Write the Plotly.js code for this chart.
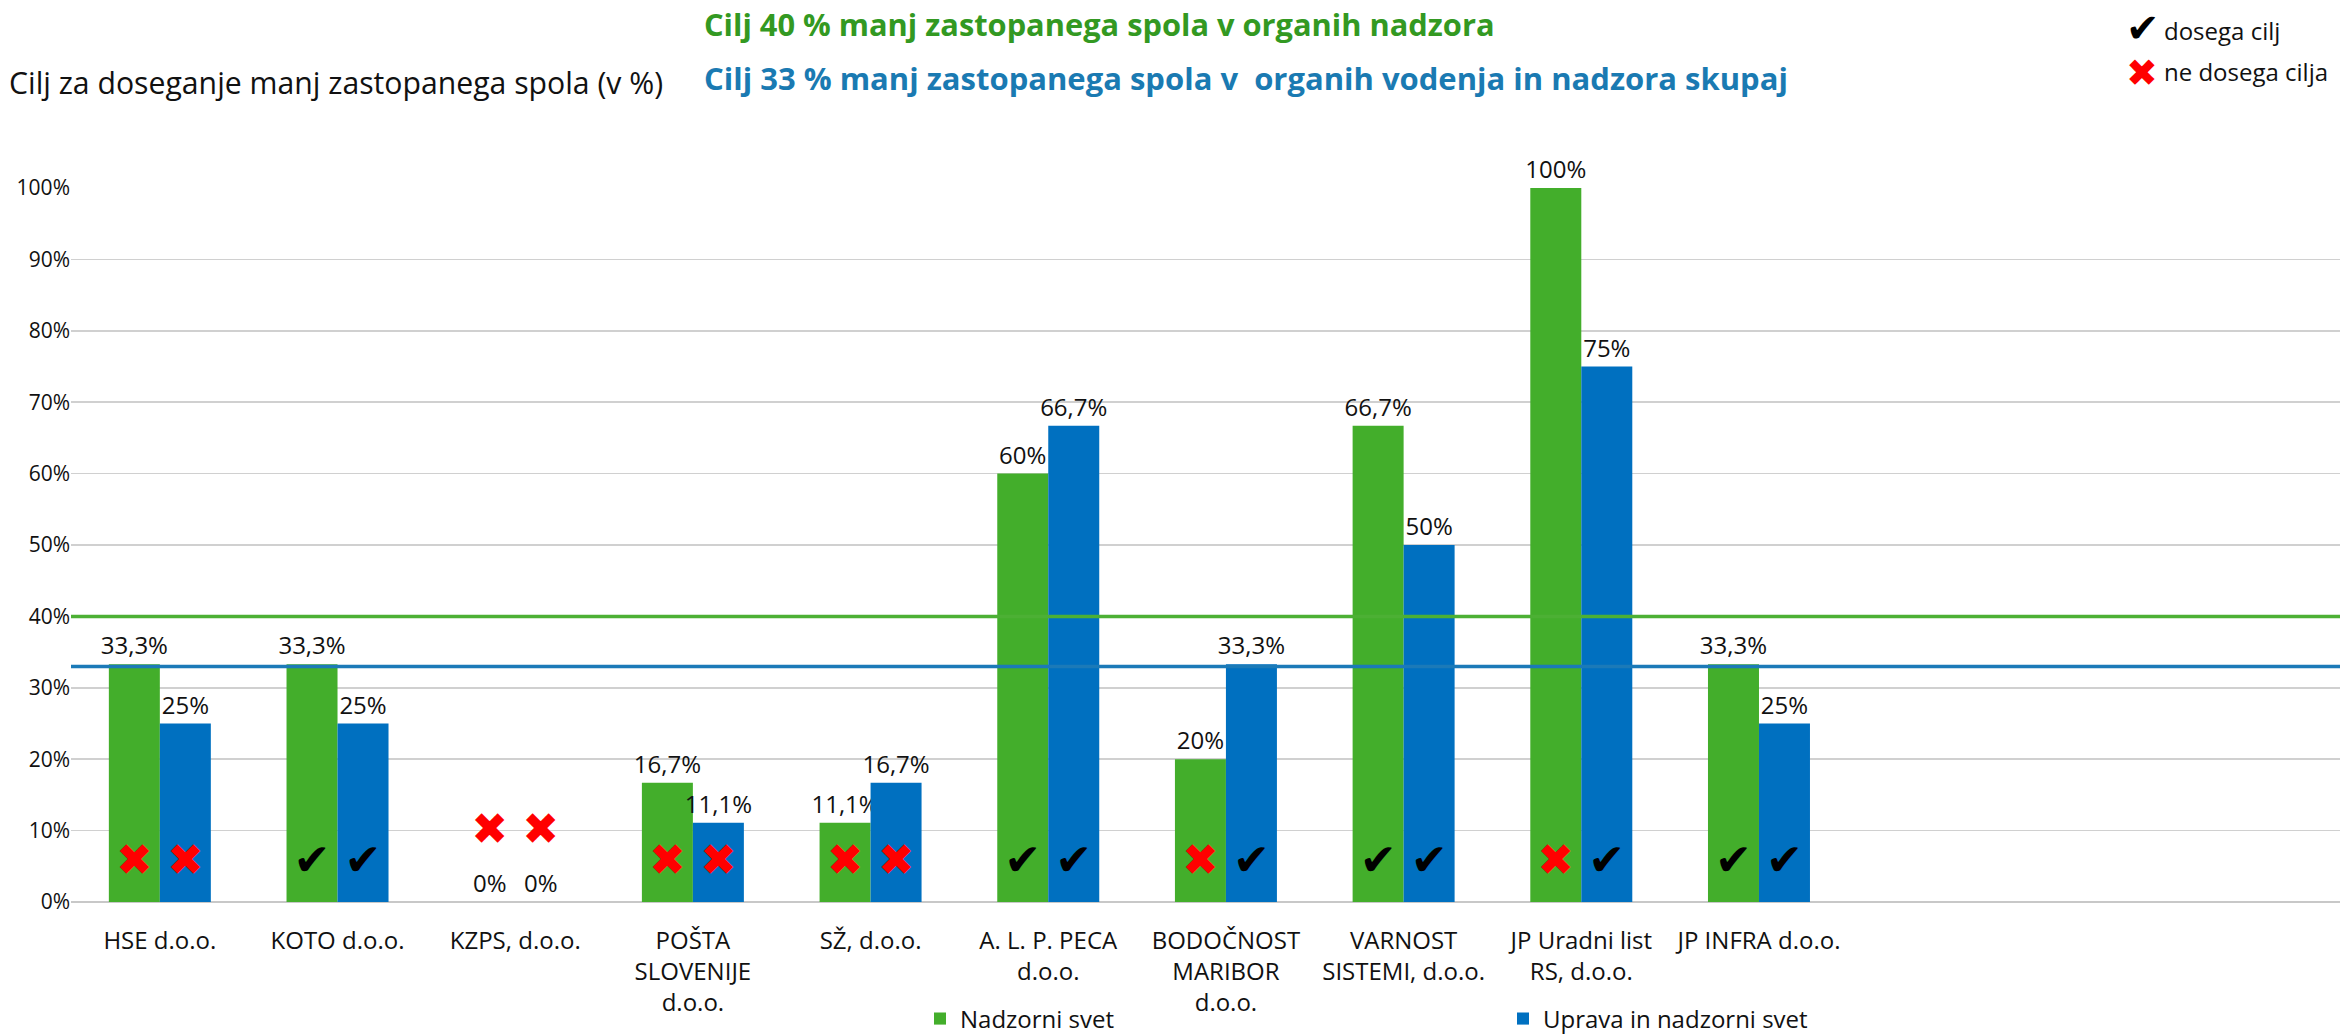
<!DOCTYPE html>
<html>
<head>
<meta charset="utf-8">
<script src="https://cdn.plot.ly/plotly-3.0.1.min.js"></script>
<style>
  html, body { margin: 0; padding: 0; background: #fff; }
  #chart { width: 2344px; height: 1034px; }
</style>
</head>
<body>
<div id="chart"></div>
<script>
const companies = [
    'HSE d.o.o.',
    'KOTO d.o.o.',
    'KZPS, d.o.o.',
    'POŠTA<br>SLOVENIJE<br>d.o.o.',
    'SŽ, d.o.o.',
    'A. L. P. PECA<br>d.o.o.',
    'BODOČNOST<br>MARIBOR<br>d.o.o.',
    'VARNOST<br>SISTEMI, d.o.o.',
    'JP Uradni list<br>RS, d.o.o.',
    'JP INFRA d.o.o.'
]
const supervisoryBoard = [33.3, 33.3, 0, 16.7, 11.1, 60, 20, 66.7, 100, 33.3]
const managementAndBoard = [25, 25, 0, 11.1, 16.7, 66.7, 33.3, 50, 75, 25]
// true = dosega cilj (check), false = ne dosega cilja (red cross)
const supervisoryMet = [false, true, false, false, false, true, false, true, false, true]
const managementMet = [false, true, false, false, false, true, true, true, true, true]
const targetSupervisory = 40
const targetTotal = 33

const W = 2344, H = 1034
const M = { l: 71, r: 4, t: 188, b: 132, autoexpand: false }
const plotW = W - M.l - M.r
const plotH = H - M.t - M.b
const px = x => (x - M.l) / plotW
const py = y => (H - M.b - y) / plotH

const GREEN = '#43ae2b'
const BLUE = '#0070c0'
const FONT = '"Open Sans", "Noto Sans", sans-serif'
const GAP = 0.426
const CHECK = '✔'
const CROSS = '✖'

const fmt = v => String(v).replace('.', ',') + '%'
// marks sit near the bottom of each bar, higher where the bar is empty
const markY = (vals) => vals.map(v => v === 0 ? 9.6 : 5.3)
const markText = (met) => met.map(m => m ? CHECK : CROSS)
const markColor = (met) => met.map(m => m ? '#000000' : '#ff0000')

const data = [
    {
        type: 'bar',
        name: 'Nadzorni svet',
        x: companies,
        y: supervisoryBoard,
        marker: { color: GREEN },
        text: supervisoryBoard.map(fmt),
        textposition: 'outside',
        textfont: { size: 24, color: '#111', family: FONT },
        constraintext: 'none',
        cliponaxis: false,
        hoverinfo: 'skip'
    },
    {
        type: 'bar',
        name: 'Uprava in nadzorni svet',
        x: companies,
        y: managementAndBoard,
        marker: { color: BLUE },
        text: managementAndBoard.map(fmt),
        textposition: 'outside',
        textfont: { size: 24, color: '#111', family: FONT },
        constraintext: 'none',
        cliponaxis: false,
        hoverinfo: 'skip'
    },
    {
        type: 'scatter',
        mode: 'text',
        x: companies,
        y: markY(supervisoryBoard),
        text: markText(supervisoryMet),
        textfont: { size: 44, color: markColor(supervisoryMet), family: 'DejaVu Sans' },
        showlegend: false,
        cliponaxis: false,
        hoverinfo: 'skip'
    },
    {
        type: 'scatter',
        mode: 'text',
        x: companies,
        y: markY(managementAndBoard),
        text: markText(managementMet),
        textfont: { size: 44, color: markColor(managementMet), family: 'DejaVu Sans' },
        showlegend: false,
        cliponaxis: false,
        hoverinfo: 'skip'
    }
]

const layout = {
    width: W,
    height: H,
    margin: M,
    paper_bgcolor: '#fff',
    plot_bgcolor: '#fff',
    font: { family: FONT, color: '#111' },
    barmode: 'group',
    bargap: GAP,
    bargroupgap: 0,
    scattermode: 'group',
    scattergap: GAP,
    showlegend: true,
    legend: {
        orientation: 'h',
        x: px(920),
        xanchor: 'left',
        y: py(1019),
        yanchor: 'middle',
        entrywidth: 538,
        entrywidthmode: 'pixels',
        font: { size: 24, family: FONT, color: '#111' },
        bgcolor: 'rgba(0,0,0,0)'
    },
    xaxis: {
        type: 'category',
        range: [-0.5, 12.27],
        showgrid: false,
        zeroline: false,
        showline: false,
        ticks: '',
        ticklabelstandoff: 22,
        tickfont: { size: 24, family: FONT, color: '#111' },
        tickangle: 0,
        fixedrange: true
    },
    yaxis: {
        range: [0, 100],
        dtick: 10,
        ticksuffix: '%',
        showgrid: true,
        gridcolor: '#d0d0d0',
        gridwidth: 1.5,
        zeroline: true,
        zerolinecolor: '#c8c8c8',
        zerolinewidth: 2,
        showline: false,
        ticks: '',
        tickfont: { size: 21, family: FONT, color: '#111' },
        fixedrange: true
    },
    shapes: [
        {
            type: 'line', xref: 'paper', yref: 'y', layer: 'above',
            x0: 0, x1: 1, y0: targetSupervisory, y1: targetSupervisory,
            line: { color: '#4cb034', width: 3.5 }
        },
        {
            type: 'line', xref: 'paper', yref: 'y', layer: 'above',
            x0: 0, x1: 1, y0: targetTotal, y1: targetTotal,
            line: { color: '#1b7ab8', width: 3.5 }
        }
    ],
    annotations: [
        {
            xref: 'paper', yref: 'paper', x: px(7), y: py(82),
            xanchor: 'left', yanchor: 'middle', showarrow: false,
            text: 'Cilj za doseganje manj zastopanega spola (v %)',
            font: { size: 30.2, family: FONT, color: '#111' }
        },
        {
            xref: 'paper', yref: 'paper', x: px(702), y: py(24),
            xanchor: 'left', yanchor: 'middle', showarrow: false,
            text: '<b>Cilj 40 % manj zastopanega spola v organih nadzora</b>',
            font: { size: 30.8, family: FONT, color: '#339922' }
        },
        {
            xref: 'paper', yref: 'paper', x: px(702), y: py(78),
            xanchor: 'left', yanchor: 'middle', showarrow: false,
            text: '<b>Cilj 33 % manj zastopanega spola v \u00a0organih vodenja in nadzora skupaj</b>',
            font: { size: 31, family: FONT, color: '#1a7ab2' }
        },
        {
            xref: 'paper', yref: 'paper', x: px(2161), y: py(28),
            xanchor: 'right', yanchor: 'middle', showarrow: false,
            borderpad: 0,
            text: CHECK,
            font: { size: 40, family: 'DejaVu Sans', color: '#000' }
        },
        {
            xref: 'paper', yref: 'paper', x: px(2163), y: py(31),
            xanchor: 'left', yanchor: 'middle', showarrow: false,
            borderpad: 0,
            text: 'dosega cilj',
            font: { size: 24, family: FONT, color: '#111' }
        },
        {
            xref: 'paper', yref: 'paper', x: px(2159), y: py(73),
            xanchor: 'right', yanchor: 'middle', showarrow: false,
            borderpad: 0,
            text: CROSS,
            font: { size: 38, family: 'DejaVu Sans', color: '#ff0000' }
        },
        {
            xref: 'paper', yref: 'paper', x: px(2163), y: py(72),
            xanchor: 'left', yanchor: 'middle', showarrow: false,
            borderpad: 0,
            text: 'ne dosega cilja',
            font: { size: 24, family: FONT, color: '#111' }
        }
    ]
}

Plotly.newPlot('chart', data, layout, { displayModeBar: false, staticPlot: true })
</script>
</body>
</html>
